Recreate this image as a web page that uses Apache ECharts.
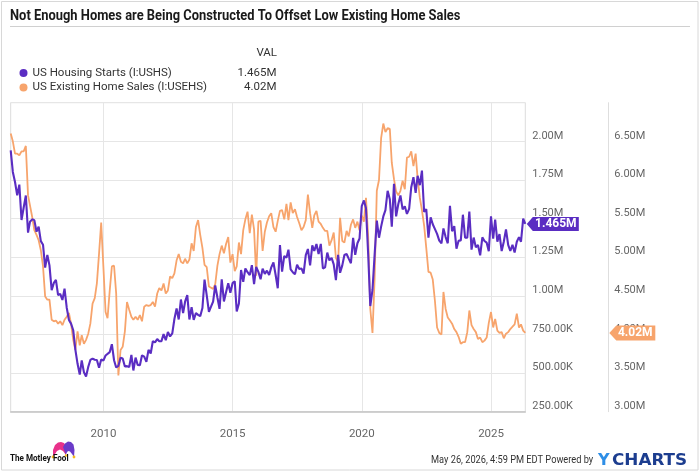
<!DOCTYPE html>
<html>
<head>
<meta charset="utf-8">
<title>Housing starts vs existing home sales</title>
<script src="https://cdn.jsdelivr.net/npm/echarts@6.0.0/dist/echarts.min.js"></script>
<style>
html, body { margin: 0; padding: 0; background: #fff; }
#main { width: 700px; height: 473px; }
</style>
</head>
<body>
<div id="main"></div>
<script>
// monthly values, May 2006 .. Apr 2026, millions (SAAR)
var firstYear = 2006, firstMonth = 5;
var chartTitle = 'Not Enough Homes are Being Constructed To Offset Low Existing Home Sales';
var startsName = 'US Housing Starts (I:USHS)';
var salesName = 'US Existing Home Sales (I:USEHS)';
var yearTicks = [2010, 2015, 2020, 2025];

var housingStarts = [
	1.942, 1.802, 1.737, 1.650, 1.720, 1.491, 1.570, 1.649,                   // 2006
	1.409, 1.480, 1.495, 1.490, 1.415, 1.448, 1.354, 1.330, 1.183, 1.264, 1.197, 1.037, // 2007
	1.084, 1.103, 1.005, 1.013, 0.973, 1.046, 0.923, 0.844, 0.820, 0.777, 0.652, 0.560, // 2008
	0.490, 0.582, 0.505, 0.478, 0.540, 0.585, 0.594, 0.586, 0.585, 0.534, 0.588, 0.581, // 2009
	0.614, 0.604, 0.636, 0.687, 0.583, 0.536, 0.546, 0.599, 0.594, 0.543, 0.545, 0.539, // 2010
	0.617, 0.517, 0.600, 0.553, 0.551, 0.615, 0.606, 0.573, 0.650, 0.627, 0.706, 0.699, // 2011
	0.720, 0.706, 0.707, 0.752, 0.713, 0.766, 0.737, 0.757, 0.850, 0.918, 0.847, 0.976, // 2012
	0.888, 0.962, 1.005, 0.847, 0.926, 0.844, 0.888, 0.877, 0.868, 0.921, 1.105, 1.003, // 2013
	0.897, 0.928, 0.963, 1.067, 0.989, 0.916, 1.106, 0.964, 1.023, 1.081, 1.020, 1.082, // 2014
	1.094, 0.899, 0.951, 1.167, 1.090, 1.177, 1.153, 1.134, 1.198, 1.075, 1.187, 1.155, // 2015
	1.107, 1.176, 1.142, 1.163, 1.135, 1.184, 1.216, 1.135, 1.049, 1.329, 1.156, 1.258, // 2016
	1.246, 1.299, 1.171, 1.153, 1.139, 1.201, 1.173, 1.177, 1.143, 1.263, 1.303, 1.197, // 2017
	1.327, 1.290, 1.335, 1.270, 1.336, 1.177, 1.184, 1.280, 1.229, 1.246, 1.204, 1.101, // 2018
	1.265, 1.149, 1.197, 1.264, 1.271, 1.241, 1.211, 1.375, 1.265, 1.340, 1.371, 1.580, // 2019
	1.617, 1.567, 1.269, 0.934, 1.038, 1.265, 1.487, 1.376, 1.448, 1.514, 1.555, 1.680, // 2020
	1.625, 1.447, 1.725, 1.514, 1.594, 1.650, 1.559, 1.580, 1.530, 1.563, 1.703, 1.768, // 2021
	1.666, 1.777, 1.716, 1.810, 1.543, 1.561, 1.377, 1.508, 1.463, 1.432, 1.401, 1.357, // 2022
	1.340, 1.436, 1.380, 1.340, 1.583, 1.418, 1.451, 1.305, 1.356, 1.359, 1.525, 1.376, // 2023
	1.376, 1.546, 1.299, 1.377, 1.315, 1.329, 1.262, 1.379, 1.355, 1.344, 1.289, 1.515, // 2024
	1.370, 1.494, 1.350, 1.400, 1.290, 1.350, 1.430, 1.330, 1.290, 1.330, 1.280, 1.350, // 2025
	1.380, 1.350, 1.500, 1.465                                                 // 2026
];

var existingSales = [
	6.60, 6.50, 6.34, 6.34, 6.32, 6.37, 6.37, 6.44,                   // 2006
	5.80, 5.79, 5.52, 5.35, 5.29, 5.22, 5.09, 4.88, 4.49, 4.45, 4.45, 4.19, // 2007
	4.17, 4.18, 4.14, 4.17, 4.12, 4.19, 4.23, 4.28, 4.14, 3.93, 3.80, 4.04, // 2008
	3.86, 3.99, 3.88, 3.93, 4.01, 4.14, 4.40, 4.47, 4.66, 5.05, 5.45, 4.88, // 2009
	4.29, 4.21, 4.57, 4.88, 4.89, 4.53, 3.47, 3.80, 3.84, 4.04, 4.42, 4.32, // 2010
	4.23, 4.19, 4.23, 4.19, 4.25, 4.17, 4.36, 4.38, 4.37, 4.38, 4.42, 4.36, // 2011
	4.53, 4.60, 4.57, 4.66, 4.53, 4.57, 4.75, 4.73, 4.79, 4.96, 5.04, 4.94, // 2012
	4.92, 4.98, 4.92, 4.97, 5.18, 5.08, 5.39, 5.48, 5.29, 5.12, 4.90, 4.87, // 2013
	4.62, 4.60, 4.59, 4.65, 4.89, 5.04, 5.15, 5.05, 5.17, 5.26, 4.93, 5.04, // 2014
	4.82, 4.88, 5.19, 5.04, 5.35, 5.49, 5.59, 5.31, 5.55, 5.36, 4.76, 5.46, // 2015
	5.47, 5.08, 5.33, 5.45, 5.53, 5.57, 5.39, 5.33, 5.47, 5.60, 5.61, 5.49, // 2016
	5.69, 5.48, 5.71, 5.57, 5.62, 5.52, 5.44, 5.35, 5.39, 5.48, 5.81, 5.57, // 2017
	5.38, 5.54, 5.60, 5.46, 5.43, 5.38, 5.34, 5.34, 5.15, 5.22, 5.32, 4.99, // 2018
	4.94, 5.51, 5.21, 5.19, 5.34, 5.27, 5.42, 5.49, 5.38, 5.46, 5.35, 5.54, // 2019
	5.46, 5.77, 5.27, 4.33, 4.02, 4.72, 5.86, 6.00, 6.54, 6.73, 6.62, 6.67, // 2020
	6.66, 6.22, 6.01, 5.85, 5.80, 5.86, 5.99, 5.88, 6.29, 6.30, 6.37, 6.18, // 2021
	6.34, 6.02, 5.77, 5.61, 5.41, 5.12, 4.81, 4.80, 4.71, 4.43, 4.09, 4.02, // 2022
	4.00, 4.55, 4.33, 4.22, 4.18, 4.14, 4.07, 4.03, 3.97, 3.88, 3.90, 3.90, // 2023
	4.03, 4.31, 4.12, 4.07, 4.03, 3.94, 3.96, 3.90, 3.92, 3.96, 4.15, 4.29, // 2024
	4.09, 4.20, 4.05, 4.02, 4.03, 3.95, 4.01, 4.03, 4.07, 4.10, 4.13, 4.27, // 2025
	4.09, 4.13, 4.05, 4.02                                                 // 2026
];

var purple = '#5a2dc2';
var orange = '#f7a46c';
var font = 'Roboto';

// each value is dated at the end of its month (timestamps on a value axis)
var dates = housingStarts.map(function (v, i) {
	return new Date(firstYear, firstMonth + i, 0).getTime();
});
var tickTimes = yearTicks.map(function (y) { return new Date(y, 0, 1).getTime(); });
var last = dates.length - 1;

function fmtLeft(v) {
	return v >= 1 ? v.toFixed(2) + 'M' : (v * 1000).toFixed(2) + 'K';
}
function fmtRight(v) {
	return v.toFixed(2) + 'M';
}
function tagText(v) {
	return parseFloat(v.toFixed(3)) + 'M';
}
function pairs(values) {
	return values.map(function (v, i) { return [dates[i], v]; });
}
var lastValues = {};
lastValues[startsName] = tagText(housingStarts[last]);
lastValues[salesName] = tagText(existingSales[last]);

var myChart = echarts.init(document.getElementById('main'));

var option = {
	animation : false,
	backgroundColor : '#fff',
	textStyle : { fontFamily : font },
	legend : {
		orient : 'vertical',
		left : 14.5,
		top : 61,
		icon : 'circle',
		itemWidth : 8,
		itemHeight : 8,
		itemGap : 0.5,
		itemTextGap : 10.5,
		selectedMode : false,
		data : [ startsName, salesName ],
		formatter : function (name) {
			return '{n|' + name + '}{v|' + lastValues[name] + '}';
		},
		textStyle : {
			fontSize : 11.5,
			color : '#333',
			lineHeight : 14,
			rich : {
				n : { width : 196, fontSize : 11.5, color : '#333', lineHeight : 14, fontFamily : font },
				v : { width : 48, align : 'right', fontSize : 11.5, color : '#333', lineHeight : 14, fontFamily : font }
			}
		}
	},
	grid : {
		left : 10.7,
		right : 174.7,
		top : 102.7,
		bottom : 61.3,
		show : true,
		borderColor : '#dcdcdc',
		borderWidth : 1
	},
	xAxis : {
		type : 'value',
		min : dates[0],
		max : dates[last],
		axisLine : { show : true, onZero : false, lineStyle : { color : '#c4c4c4', width : 1.5 } },
		axisTick : { show : false, customValues : tickTimes },
		axisLabel : {
			customValues : tickTimes,
			formatter : function (v) { return String(new Date(v).getFullYear()); },
			color : '#666',
			fontSize : 11.5,
			margin : 16,
			fontFamily : font
		},
		splitLine : { show : true, lineStyle : { color : '#e6e6e6', width : 1 } }
	},
	yAxis : [ {
		type : 'value',
		position : 'right',
		min : 0.25,
		max : 2.25,
		interval : 0.25,
		axisLine : { show : false },
		axisTick : { show : false },
		splitLine : { show : true, lineStyle : { color : '#e6e6e6' } },
		axisLabel : {
			showMaxLabel : false,
			margin : 7,
			verticalAlign : 'bottom',
			color : '#666',
			fontSize : 11,
			fontFamily : font,
			formatter : fmtLeft
		}
	}, {
		type : 'value',
		position : 'right',
		offset : 83,
		min : 3,
		max : 7,
		interval : 0.5,
		axisLine : { show : true, lineStyle : { color : '#dedede' } },
		axisTick : { show : false },
		splitLine : { show : false },
		axisLabel : {
			showMaxLabel : false,
			margin : 6,
			verticalAlign : 'bottom',
			color : '#666',
			fontSize : 11,
			fontFamily : font,
			formatter : fmtRight
		}
	} ],
	series : [ {
		name : salesName,
		type : 'line',
		yAxisIndex : 1,
		data : pairs(existingSales),
		showSymbol : false,
		symbol : 'none',
		lineStyle : { width : 1.8, color : orange },
		itemStyle : { color : orange },
		z : 2,
		markPoint : {
			silent : true,
			symbol : 'path://M0,7.5L7,0L46,0L46,15L7,15Z',
			symbolSize : [ 46, 15 ],
			symbolKeepAspect : false,
			symbolOffset : [ 107, 0 ],
			itemStyle : { color : orange },
			label : {
				show : true,
				position : 'inside',
				offset : [ 3, 0 ],
				color : '#fff',
				fontWeight : 'bold',
				fontSize : 12,
				fontFamily : font,
				formatter : function (p) { return tagText(p.value); }
			},
			data : [ { coord : [ dates[last], existingSales[last] ], value : existingSales[last] } ]
		}
	}, {
		name : startsName,
		type : 'line',
		yAxisIndex : 0,
		data : pairs(housingStarts),
		showSymbol : false,
		symbol : 'none',
		lineStyle : { width : 2.1, color : purple },
		itemStyle : { color : purple },
		z : 3,
		markPoint : {
			silent : true,
			symbol : 'path://M0,7L6,0L52,0L52,14L6,14Z',
			symbolSize : [ 52, 14 ],
			symbolKeepAspect : false,
			symbolOffset : [ 27.5, 0 ],
			itemStyle : { color : purple },
			label : {
				show : true,
				position : 'inside',
				offset : [ 3, 0 ],
				color : '#fff',
				fontWeight : 'bold',
				fontSize : 12,
				fontFamily : font,
				formatter : function (p) { return tagText(p.value); }
			},
			data : [ { coord : [ dates[last], housingStarts[last] ], value : housingStarts[last] } ]
		}
	} ],
	graphic : [
		// outer frame
		{ type : 'rect', silent : true, shape : { x : 1.5, y : 1.5, width : 696.5, height : 468.5 },
			style : { fill : 'none', stroke : '#d8d8d8', lineWidth : 1 } },
		// title (narrow bold face squeezed horizontally)
		{ type : 'text', silent : true, x : 10, y : 16, scaleX : 0.89,
			style : { text : chartTitle, font : 'bold 14.5px Roboto', fill : '#1a1a1a', verticalAlign : 'middle' } },
		// rule under the title
		{ type : 'line', silent : true, shape : { x1 : 10, y1 : 26.5, x2 : 690, y2 : 26.5 },
			style : { stroke : '#d0d0d0', lineWidth : 1 } },
		{ type : 'text', silent : true, x : 277, y : 53.3,
			style : { text : 'VAL', align : 'right', verticalAlign : 'middle', font : '11.5px Roboto', fill : '#333' } },
		// footer: Motley Fool logo
		{ type : 'polygon', silent : true,
			shape : { points : [ [53,457], [53,450], [55,445], [58,442.5], [61,442], [64,443], [66,446], [66,455], [63,451], [60,449.5], [57,451], [55,454] ] },
			style : { fill : '#e8318a' } },
		{ type : 'polygon', silent : true,
			shape : { points : [ [63,447], [65,443.5], [68,441.5], [71,442], [73.5,444.5], [74.5,450], [74,457], [72,454], [70,451.5], [68,451], [66.5,453], [66,455] ] },
			style : { fill : '#6a3bc9' } },
		{ type : 'circle', silent : true, shape : { cx : 53, cy : 457, r : 1.4 }, style : { fill : '#f5b91e' } },
		{ type : 'circle', silent : true, shape : { cx : 74, cy : 457, r : 1.4 }, style : { fill : '#f5b91e' } },
		{ type : 'circle', silent : true, shape : { cx : 66, cy : 455.5, r : 1.2 }, style : { fill : '#f5b91e' } },
		{ type : 'text', silent : true, x : 10, y : 458.5, scaleX : 0.9,
			style : { text : 'The Motley Fool', font : 'bold 9px Roboto', fill : '#111', verticalAlign : 'middle' } },
		// footer: timestamp and YCharts
		{ type : 'text', silent : true, x : 431, y : 460.5, scaleX : 0.84,
			style : { text : 'May 26, 2026, 4:59 PM EDT Powered by', font : '11px Roboto', fill : '#333', verticalAlign : 'middle' } },
		{ type : 'text', silent : true, x : 598, y : 461,
			style : { text : 'Y', font : 'bold 16px "DejaVu Sans"', fill : '#2e8ee6', verticalAlign : 'middle' } },
		{ type : 'text', silent : true, x : 612, y : 461, scaleX : 1.05,
			style : { text : 'CHARTS', font : 'bold 16px "DejaVu Sans"', fill : '#1c3d8f', verticalAlign : 'middle' } }
	]
};
myChart.setOption(option);
</script>
</body>
</html>
